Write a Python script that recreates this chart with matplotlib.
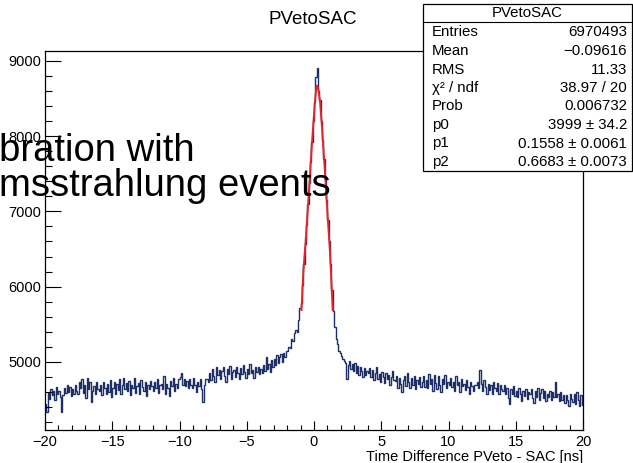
import numpy as np
import matplotlib.pyplot as plt
from matplotlib.ticker import MultipleLocator
from matplotlib.patches import Rectangle

plt.rcParams["font.family"] = ["Liberation Sans", "DejaVu Sans"]

# histogram: 400 bins of 0.1 ns between -20 and 20
x_min, x_max, n_bins = -20, 20, 400
counts = [
    4440, 4330, 4590, 4510, 4640, 4560, 4610, 4490, 4670, 4570, 4620, 4540, 4340, 4560, 4650, 4590, 4700, 4600, 4670, 4550,
    4640, 4580, 4700, 4620, 4570, 4730, 4650, 4770, 4590, 4700, 4520, 4790, 4640, 4730, 4470, 4620, 4680, 4570, 4730, 4640,
    4610, 4700, 4560, 4740, 4650, 4570, 4710, 4600, 4760, 4540, 4660, 4730, 4580, 4710, 4630, 4770, 4570, 4690, 4790, 4640,
    4720, 4620, 4750, 4560, 4700, 4650, 4790, 4590, 4680, 4720, 4570, 4760, 4670, 4620, 4730, 4550, 4700, 4640, 4750, 4680,
    4620, 4730, 4650, 4780, 4590, 4700, 4710, 4640, 4810, 4570, 4710, 4650, 4550, 4750, 4680, 4790, 4620, 4710, 4650, 4770,
    4800, 4850, 4700, 4770, 4680, 4750, 4660, 4780, 4700, 4650, 4790, 4690, 4600, 4740, 4680, 4770, 4640, 4470, 4700, 4780,
    4780, 4740, 4860, 4760, 4910, 4820, 4730, 4940, 4830, 4890, 4770, 4880, 4940, 4810, 4740, 4910, 4840, 4950, 4780, 4870,
    4890, 4800, 4940, 4860, 4770, 4920, 4840, 4960, 4870, 4790, 4910, 4840, 4970, 4860, 4890, 4790, 4930, 4870, 4940, 4840,
    4910, 4850, 4960, 4880, 5060, 4910, 4970, 4870, 5020, 4940, 5040, 4960, 5090, 4980, 5060, 5100, 5000, 5120, 5060, 5150,
    5150, 5200, 5180, 5300, 5280, 5380, 5420, 5400, 5560, 5720, 5780, 6020, 6300, 6560, 6820, 7100, 7380, 7660, 7920, 8200,
    8450, 8790, 8900, 8600, 8480, 8200, 7950, 7700, 7420, 7150, 6880, 6600, 6300, 5950, 5680, 5460, 5300, 5240, 5150, 5120,
    5080, 5040, 5010, 4980, 4770, 4960, 5010, 4910, 4970, 4880, 4990, 4860, 4950, 4830, 4930, 4880, 4800, 4920, 4830, 4880,
    4860, 4920, 4800, 4890, 4760, 4850, 4930, 4770, 4840, 4730, 4870, 4800, 4720, 4860, 4770, 4830, 4700, 4800, 4880, 4760,
    4750, 4810, 4660, 4790, 4710, 4600, 4760, 4810, 4680, 4850, 4730, 4660, 4790, 4700, 4820, 4640, 4760, 4710, 4800, 4670,
    4730, 4820, 4670, 4760, 4660, 4840, 4710, 4780, 4620, 4830, 4720, 4640, 4810, 4690, 4600, 4770, 4710, 4830, 4660, 4740,
    4700, 4790, 4670, 4740, 4620, 4820, 4700, 4730, 4600, 4780, 4680, 4710, 4630, 4760, 4670, 4580, 4730, 4680, 4620, 4700,
    4690, 4740, 4650, 4900, 4710, 4620, 4760, 4670, 4570, 4710, 4630, 4700, 4580, 4730, 4650, 4610, 4720, 4580, 4690, 4640,
    4620, 4700, 4580, 4660, 4520, 4440, 4640, 4570, 4680, 4550, 4620, 4530, 4660, 4570, 4480, 4620, 4550, 4640, 4510, 4600,
    4570, 4640, 4520, 4460, 4610, 4540, 4650, 4500, 4590, 4640, 4520, 4610, 4480, 4580, 4540, 4620, 4500, 4600, 4540, 4730,
    4540, 4570, 4480, 4600, 4500, 4560, 4450, 4560, 4500, 4410, 4580, 4510, 4470, 4570, 4440, 4600, 4500, 4420, 4560, 4430,
]

# fitted curve
fit_x = [-0.93, -0.8, -0.6, -0.4, -0.2, 0.0, 0.1, 0.2, 0.3, 0.45, 0.6, 0.8, 1.0, 1.2, 1.39]
fit_y = [5690, 6180, 6660, 7200, 7780, 8290, 8520, 8670, 8650, 8450, 8100, 7560, 6980, 6420, 5690]

stats_title = "PVetoSAC"
stats_labels = ["Entries", "Mean", "RMS", "\u03c7\u00b2 / ndf", "Prob", "p0", "p1", "p2"]
stats_values = ["6970493", "\u22120.09616", "11.33", "38.97 / 20", "0.006732",
                "3999 \u00b1 34.2", "0.1558 \u00b1 0.0061", "0.6683 \u00b1 0.0073"]

W, H = 633, 463
fig = plt.figure(figsize=(W / 100, H / 100), dpi=100)
ax = fig.add_axes([45 / W, 33 / H, 538 / W, 379 / H])

edges = np.linspace(x_min, x_max, n_bins + 1)
ax.stairs(counts, edges, baseline=None, color="#1d2f66", linewidth=1.0)
ax.plot(fit_x, fit_y, color="#e0282c", linewidth=1.4)

ax.set_xlim(x_min, x_max)
ax.set_ylim(4097, 9129)
ax.xaxis.set_major_locator(MultipleLocator(5))
ax.xaxis.set_minor_locator(MultipleLocator(1))
ax.yaxis.set_major_locator(MultipleLocator(1000))
ax.yaxis.set_minor_locator(MultipleLocator(200))
ax.tick_params(which="both", direction="in", top=False, right=False, width=0.8, labelsize=10.5)
ax.tick_params(axis="x", which="major", length=6.5, pad=3.5)
ax.tick_params(axis="x", which="minor", length=3.6)
ax.tick_params(axis="y", which="major", length=11.5, pad=2.5)
ax.tick_params(axis="y", which="minor", length=5)
for s in ax.spines.values():
    s.set_linewidth(0.9)

ax.set_xlabel("Time Difference PVeto - SAC [ns]", fontsize=10.5, loc="right", labelpad=1)

fig.text(313 / W, 1 - 20 / H, "PVetoSAC", fontsize=13.5, ha="center", va="center")

# stats box
bx0, bx1, by0, by1 = 423, 632, 4, 170.5
fig.patches.append(Rectangle((bx0 / W, 1 - by1 / H), (bx1 - bx0) / W, (by1 - by0) / H,
                             transform=fig.transFigure, facecolor="white",
                             edgecolor="black", linewidth=0.9, zorder=5))
fig.add_artist(plt.Line2D([bx0 / W, bx1 / W], [1 - 22 / H, 1 - 22 / H],
                          transform=fig.transFigure, color="black", linewidth=0.8, zorder=6))
fig.text((bx0 + bx1) / 2 / W, 1 - 13 / H, stats_title, fontsize=10.8, ha="center", va="center", zorder=7)
for i, (lab, val) in enumerate(zip(stats_labels, stats_values)):
    yy = 1 - (32.5 + 18.5 * i) / H
    fig.text(432 / W, yy, lab, fontsize=10.8, ha="left", va="center", zorder=7)
    fig.text(627 / W, yy, val, fontsize=10.8, ha="right", va="center", zorder=7)

# slide text overlapping the plot (cut off at the left edge, as in the source)
fig.text(-1 / W, 1 - 160.7 / H, "bration with", fontsize=27.5, ha="left", va="baseline", zorder=8)
fig.text(-1 / W, 1 - 196 / H, "msstrahlung events", fontsize=27.5, ha="left", va="baseline", zorder=8)

fig.savefig("out.png", dpi=100)
